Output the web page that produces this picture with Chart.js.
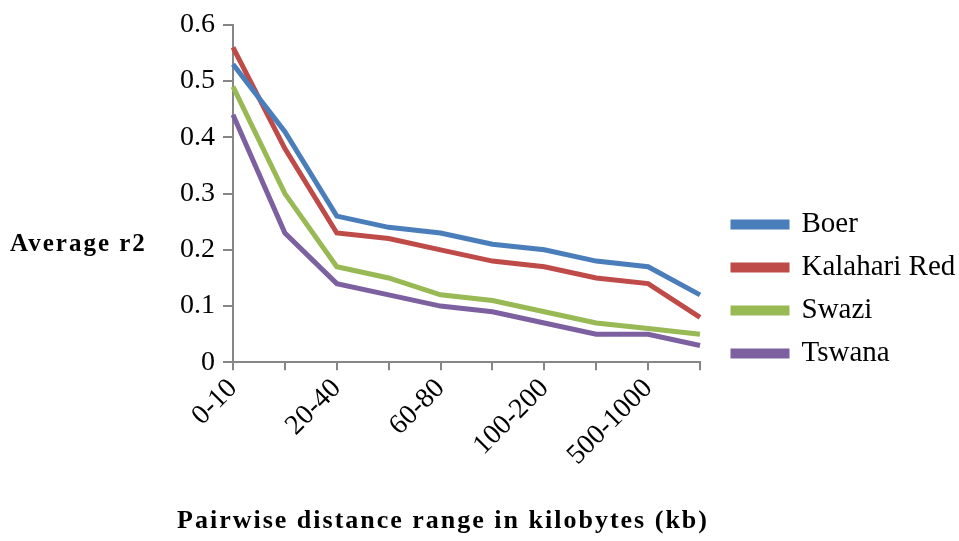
<!DOCTYPE html>
<html>
<head>
<meta charset="utf-8">
<script src="https://cdn.jsdelivr.net/npm/chart.js@4"></script>
<style>
  html, body { margin: 0; padding: 0; background: #fff; }
  #wrap { width: 959px; height: 541px; position: relative; }
</style>
</head>
<body>
<div id="wrap"><canvas id="chartLine"></canvas></div>
<script>
const categories = ["0-10", "10-20", "20-40", "40-60", "60-80", "80-100", "100-200", "200-500", "500-1000", ">1000"]
const boer = [0.53, 0.41, 0.26, 0.24, 0.23, 0.21, 0.20, 0.18, 0.17, 0.12]
const kalahariRed = [0.56, 0.38, 0.23, 0.22, 0.20, 0.18, 0.17, 0.15, 0.14, 0.08]
const swazi = [0.49, 0.30, 0.17, 0.15, 0.12, 0.11, 0.09, 0.07, 0.06, 0.05]
const tswana = [0.44, 0.23, 0.14, 0.12, 0.10, 0.09, 0.07, 0.05, 0.05, 0.03]
const yTicks = [0, 0.1, 0.2, 0.3, 0.4, 0.5, 0.6]

const yTitleText = "Average r2"
const xTitleText = "Pairwise distance range in kilobytes (kb)"

const serif = "'Liberation Serif', 'Times New Roman', serif"
const axisGray = "#868686"

function series(label, values, color) {
    return {
        label: label,
        data: values,
        borderColor: color,
        backgroundColor: color,
        borderWidth: 5,
        pointRadius: 0,
        tension: 0
    }
}

// both axis titles are plain horizontal text, spaced out a bit like the original
const axisTitles = {
    id: "axisTitles",
    afterDraw(chart) {
        const ctx = chart.ctx
        ctx.save()
        ctx.fillStyle = "#000"
        ctx.textBaseline = "middle"
        ctx.font = "bold 25px " + serif
        ctx.letterSpacing = "2px"
        ctx.textAlign = "left"
        ctx.fillText(yTitleText, 10, 245)
        ctx.font = "bold 26px " + serif
        ctx.textAlign = "center"
        ctx.fillText(xTitleText, 443, 521)
        ctx.letterSpacing = "0px"
        ctx.restore()
    }
}

// leave a gap between plot and legend: legend takes a fixed width, entries sit further right
const legendGap = {
    id: "legendGap",
    afterInit(chart) {
        const legend = chart.legend
        const fit = legend.fit
        legend.fit = function () {
            fit.call(this)
            this.width = 257
        }
    },
    afterLayout(chart) {
        const legend = chart.legend
        legend.left = 733 - legend.options.labels.padding
    }
}

const configLineChart = {
    type: "line",
    data: {
        labels: categories,
        datasets: [
            series("Boer", boer, "#4A7EBB"),
            series("Kalahari Red", kalahariRed, "#BE4B48"),
            series("Swazi", swazi, "#98B954"),
            series("Tswana", tswana, "#7D60A0")
        ]
    },
    options: {
        responsive: true,
        maintainAspectRatio: false,
        animation: false,
        layout: { padding: { left: 172, top: 14, right: 2, bottom: 67 } },
        plugins: {
            legend: {
                position: "right",
                maxWidth: 300,
                // empty title only pushes the entries down a little
                title: { display: true, text: " ", font: { size: 10 }, padding: 39 },
                labels: {
                    color: "#000",
                    boxWidth: 54,
                    boxHeight: 5,
                    padding: 14,
                    font: { family: serif, size: 29 }
                }
            },
            tooltip: { enabled: false }
        },
        scales: {
            x: {
                offset: false,
                grid: { display: true, drawOnChartArea: false, drawTicks: true, tickLength: 8, color: axisGray, lineWidth: 2 },
                border: { display: true, color: axisGray, width: 2 },
                ticks: {
                    color: "#000",
                    autoSkip: false,
                    maxRotation: 45,
                    minRotation: 45,
                    padding: 2,
                    font: { family: serif, size: 28 },
                    callback: function (value, index) {
                        return index % 2 === 0 ? categories[index] : ""
                    }
                }
            },
            y: {
                min: 0,
                max: 0.6,
                afterBuildTicks: function (axis) {
                    axis.ticks = yTicks.map(v => ({ value: v }))
                },
                grid: { display: true, drawOnChartArea: false, drawTicks: true, tickLength: 10, color: axisGray, lineWidth: 2 },
                border: { display: true, color: axisGray, width: 2 },
                ticks: {
                    color: "#000",
                    padding: 8,
                    font: { family: serif, size: 28 },
                    callback: function (value) {
                        return value === 0 ? "0" : value.toFixed(1)
                    }
                }
            }
        }
    },
    plugins: [axisTitles, legendGap]
};

var chartLine = new Chart(document.getElementById("chartLine"), configLineChart);
</script>
</body>
</html>
